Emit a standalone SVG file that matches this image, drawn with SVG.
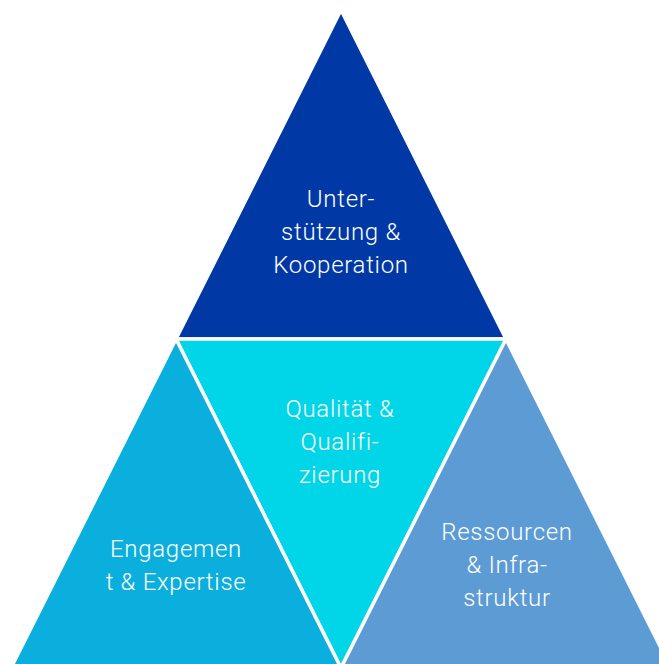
<svg xmlns="http://www.w3.org/2000/svg" width="659" height="664" viewBox="0 0 659 664">
<style>
.t{font-family:Roboto,"Liberation Sans",sans-serif;font-size:24px;font-weight:300;letter-spacing:0.7px;fill:#ffffff;text-anchor:middle}
.s{stroke:#ffffff;stroke-width:3.5;stroke-linejoin:miter}
</style>
<rect width="659" height="664" fill="#ffffff"/>
<g id="top">
<polygon class="s" points="341,10 176,339 506,339" fill="#0039A6"/>
<text class="t" x="341" y="207">Unter-</text>
<text class="t" x="341" y="240">stützung &amp;</text>
<text class="t" x="341" y="273">Kooperation</text>
</g>
<g id="middle">
<polygon class="s" points="176,339 506,339 341,668" fill="#00D6E8"/>
<text class="t" x="340" y="417">Qualität &amp;</text>
<text class="t" x="340" y="450">Qualifi-</text>
<text class="t" x="340" y="483">zierung</text>
</g>
<g id="left">
<polygon class="s" points="176,339 11,668 341,668" fill="#0BAFDD"/>
<text class="t" x="176" y="557">Engagemen</text>
<text class="t" x="176" y="590">t &amp; Expertise</text>
</g>
<g id="right">
<polygon class="s" points="506,339 341,668 671,668" fill="#5C9BD4"/>
<text class="t" x="507" y="540">Ressourcen</text>
<text class="t" x="507" y="573">&amp; Infra-</text>
<text class="t" x="507" y="606">struktur</text>
</g>
<g id="connectors"/>
</svg>
